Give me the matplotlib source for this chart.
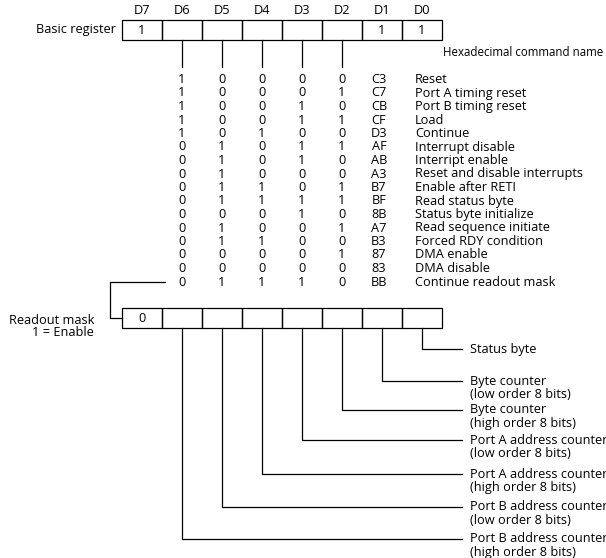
import matplotlib
matplotlib.use("Agg")
import matplotlib.pyplot as plt
from matplotlib.patches import Rectangle

# ---------------- data ----------------
bit_names = ["D7", "D6", "D5", "D4", "D3", "D2", "D1", "D0"]
basic_register = ["1", "", "", "", "", "", "1", "1"]
readout_register = ["0", "", "", "", "", "", "", ""]

cmd_d6 = [1, 1, 1, 1, 1, 0, 0, 0, 0, 0, 0, 0, 0, 0, 0, 0]
cmd_d5 = [0, 0, 0, 0, 0, 1, 1, 1, 1, 1, 0, 1, 1, 0, 0, 1]
cmd_d4 = [0, 0, 0, 0, 1, 0, 0, 0, 1, 1, 0, 0, 1, 0, 0, 1]
cmd_d3 = [0, 0, 1, 1, 0, 1, 1, 0, 0, 1, 1, 0, 0, 0, 0, 1]
cmd_d2 = [0, 1, 0, 1, 0, 1, 0, 0, 1, 1, 0, 1, 0, 1, 0, 0]
cmd_hex = ["C3", "C7", "CB", "CF", "D3", "AF", "AB", "A3",
           "B7", "BF", "8B", "A7", "B3", "87", "83", "BB"]
cmd_names = ["Reset", "Port A timing reset", "Port B timing reset", "Load",
             "Continue", "Interrupt disable", "Interript enable",
             "Reset and disable interrupts", "Enable after RETI",
             "Read status byte", "Status byte initialize",
             "Read sequence initiate", "Forced RDY condition",
             "DMA enable", "DMA disable", "Continue readout mask"]

# readout mask bit labels, D0 first
readout_labels = [
    ["Status byte"],
    ["Byte counter", "(low order 8 bits)"],
    ["Byte counter", "(high order 8 bits)"],
    ["Port A address counter", "(low order 8 bits)"],
    ["Port A address counter", "(high order 8 bits)"],
    ["Port B address counter", "(low order 8 bits)"],
    ["Port B address counter", "(high order 8 bits)"],
]

# ---------------- layout ----------------
W, H = 606, 558
fig = plt.figure(figsize=(W / 100, H / 100), dpi=100)
ax = fig.add_axes([0, 0, 1, 1])
ax.set_xlim(0, W)
ax.set_ylim(H, 0)
ax.axis("off")

FONT = "Open Sans"
FS = 9.2
LW = 0.9
kw = dict(family=FONT, fontsize=FS, color="black")

box_x0 = 122
cell_w = 40
def cx(i):
    return box_x0 + cell_w * (i + 0.5)

# basic register
b_top, b_bot = 20, 40
for i, (nm, v) in enumerate(zip(bit_names, basic_register)):
    ax.add_patch(Rectangle((box_x0 + i * cell_w, b_top), cell_w, b_bot - b_top,
                           fill=False, lw=LW, ec="black"))
    ax.text(cx(i), 11, nm, ha="center", va="center", **kw)
    if v:
        ax.text(cx(i), (b_top + b_bot) / 2, v, ha="center", va="center", **kw)
ax.text(116, (b_top + b_bot) / 2, "Basic register", ha="right", va="center", **kw)
ax.text(603, 53, "Hexadecimal command name", ha="right", va="center",
        family=FONT, fontsize=8.3, color="black")

# stubs from D6..D2
for i in range(1, 6):
    ax.plot([cx(i), cx(i)], [b_bot, 67], color="black", lw=LW)

# command table
row0, row_dy = 79.5, 13.5
cols = [cmd_d6, cmd_d5, cmd_d4, cmd_d3, cmd_d2]
for r in range(len(cmd_hex)):
    y = row0 + r * row_dy
    for j, col in enumerate(cols):
        ax.text(cx(j + 1), y, str(col[r]), ha="center", va="center", **kw)
    ax.text(379, y, cmd_hex[r], ha="center", va="center", **kw)
    ax.text(415, y, cmd_names[r], ha="left", va="center", **kw)

# connector from last row to readout mask register
r_top, r_bot = 308, 328
r_mid = (r_top + r_bot) / 2
y_last = row0 + (len(cmd_hex) - 1) * row_dy
ax.plot([165, 110, 110, box_x0], [y_last, y_last, r_mid, r_mid],
        color="black", lw=LW)

# readout mask register
for i, v in enumerate(readout_register):
    ax.add_patch(Rectangle((box_x0 + i * cell_w, r_top), cell_w, r_bot - r_top,
                           fill=False, lw=LW, ec="black"))
    if v:
        ax.text(cx(i), r_mid, v, ha="center", va="center", **kw)
ax.text(94, 320, "Readout mask", ha="right", va="center", **kw)
ax.text(94, 332, "1 = Enable", ha="right", va="center", **kw)

# leader lines to readout labels
label_y = [349, 381, 410, 440, 474, 507, 539]
for k, (lines, ly) in enumerate(zip(readout_labels, label_y)):
    i = 7 - k
    ax.plot([cx(i), cx(i), 462], [r_bot, ly, ly], color="black", lw=LW)
    for n, t in enumerate(lines):
        ax.text(470, ly + n * row_dy, t, ha="left", va="center", **kw)

fig.savefig("out.png", dpi=100, facecolor="white")
